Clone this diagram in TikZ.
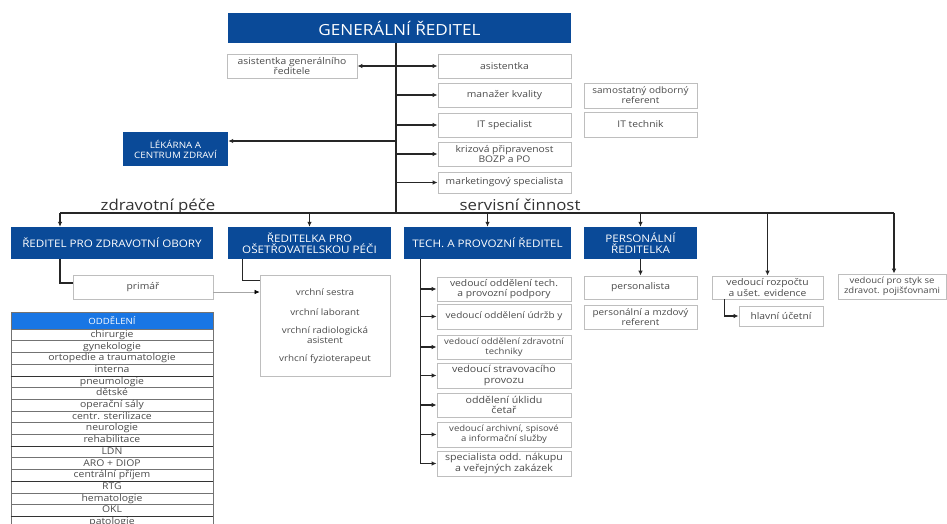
\documentclass[tikz,border=0pt]{standalone}
\usepackage{fontspec}
\setmainfont[FakeStretch=1.12]{Open Sans}
\usetikzlibrary{arrows.meta}
\definecolor{dblue}{RGB}{10,74,152}
\definecolor{hblue}{RGB}{25,118,228}
\definecolor{bgray}{RGB}{190,190,190}
\definecolor{tgray}{RGB}{75,75,75}
\newcommand\rbox[7]{\node[#1, minimum width={#5pt-#3pt}, minimum height={#6pt-#4pt}] (#2) at ({(#3+#5)/2},{(#4+#6)/2}) {#7};}
\tikzset{
  bluebox/.style={fill=dblue, draw=none, text=white, align=center, inner sep=1pt, font=\fontsize{10.4}{11.5}\selectfont},
  wbox/.style={fill=white, draw=bgray, line width=0.8pt, text=tgray, align=center, inner sep=1pt, font=\fontsize{9.2}{10.2}\selectfont},
  vtext/.style={text=tgray, align=center, inner sep=0pt, font=\fontsize{8.8}{9.6}\selectfont},
  small/.style={font=\fontsize{8.5}{9.6}\selectfont},
  mid/.style={font=\fontsize{8.9}{10}\selectfont},
  big/.style={font=\fontsize{9.5}{10.2}\selectfont},
  conn/.style={draw=black!85, line width=1.2pt},
  arr/.style={conn, -{Latex[length=5pt,width=4.5pt]}},
  thinarr/.style={draw=black!35, line width=0.6pt, -{Latex[length=5pt,width=4.5pt,color=black]}},
  lbl/.style={text=black!80, font=\fontsize{15}{17}\selectfont, inner sep=0pt},
  hdr/.style={fill=hblue, draw=black!55, line width=0.6pt, text=white, inner sep=0pt, font=\fontsize{8.6}{9}\selectfont},
  cell/.style={fill=white, draw=black!55, line width=0.6pt, text=tgray, inner sep=0pt, text height=7pt, text depth=2pt, font=\fontsize{9.3}{9}\selectfont},
  sep/.style={draw=black!80, line width=1pt},
}
\begin{document}
\begin{tikzpicture}[x=1pt,y=-1pt]
\useasboundingbox (0,0) rectangle (947,524);
\clip (0,0) rectangle (947,524);
\fill[white] (0,0) rectangle (947,524);
% top
\rbox{bluebox, font=\fontsize{15.3}{17}\selectfont}{gen}{228}{13}{571}{43}{GENERÁLNÍ ŘEDITEL}
\rbox{wbox}{asg}{227}{54}{357}{78}{asistentka generálního\\ředitele}
\rbox{wbox}{asi}{438}{54}{571}{78}{asistentka}
\rbox{wbox}{mk}{438}{83}{571}{107}{manažer kvality}
\rbox{wbox}{its}{438}{113}{571}{137}{IT specialist}
\rbox{wbox}{kr}{438}{142}{571}{166}{krizová připravenost\\BOZP a PO}
\rbox{wbox}{mar}{438}{172}{571}{193}{marketingový specialista}
\rbox{wbox, mid}{sam}{584}{83}{697}{108}{samostatný odborný\\referent}
\rbox{wbox}{itt}{584}{112}{697}{137}{IT technik}
\rbox{bluebox, font=\fontsize{8.8}{10}\selectfont}{lek}{123}{132}{228}{166}{LÉKÁRNA A\\CENTRUM ZDRAVÍ}
% second level
\rbox{bluebox}{zo}{11}{227}{213}{259}{ŘEDITEL PRO ZDRAVOTNÍ OBORY}
\rbox{bluebox}{os}{228}{227}{391}{259}{ŘEDITELKA PRO\\OŠETŘOVATELSKOU PÉČI}
\rbox{bluebox}{tech}{404}{227}{571}{259}{TECH. A PROVOZNÍ ŘEDITEL}
\rbox{bluebox}{pers}{584}{227}{697}{259}{PERSONÁLNÍ\\ŘEDITELKA}
% children
\rbox{wbox}{pri}{73}{275}{213}{299}{primář}
\rbox{wbox}{vr}{260}{275}{390}{376}{}
\node[vtext] (vr1) at (325,292) {vrchní sestra};
\node[vtext] (vr2) at (325,312) {vrchní laborant};
\node[vtext] (vr3) at (325,335) {vrchní radiologická\\asistent};
\node[vtext] (vr4) at (325,359) {vrhcní fyzioterapeut};
\rbox{wbox}{t1}{437}{277}{571}{301}{vedoucí oddělení tech.\\a provozní podpory}
\rbox{wbox, mid}{t2}{437}{304}{571}{329}{vedoucí oddělení údržb y}
\rbox{wbox, small}{t3}{437}{335}{571}{359}{vedoucí oddělení zdravotní\\techniky}
\rbox{wbox, big}{t4}{437}{363}{571}{388}{vedoucí stravovacího\\provozu}
\rbox{wbox, big}{t5}{437}{393}{571}{417}{oddělení úklidu\\četař}
\rbox{wbox, small}{t6}{437}{422}{571}{447}{vedoucí archivní, spisové\\a informační služby}
\rbox{wbox, big}{t7}{437}{451}{571}{476}{specialista odd. nákupu\\a veřejných zakázek}
\rbox{wbox}{pl}{584}{276}{697}{299}{personalista}
\rbox{wbox, mid}{pm}{584}{305}{697}{329}{personální a mzdový\\referent}
\rbox{wbox}{roz}{712}{276}{823}{299}{vedoucí rozpočtu\\a ušet. evidence}
\rbox{wbox}{hl}{739}{306}{823}{326}{hlavní účetní}
\rbox{wbox, small}{sty}{838}{274}{946}{299}{vedoucí pro styk se\\zdravot. pojišťovnami}
% labels
\node[lbl, anchor=base] (zp) at (158,210) {zdravotní péče};
\node[lbl, anchor=base] (sc) at (520,210) {servisní činnost};
% connectors top
\coordinate (t) at (396,43);
\coordinate (bus) at (396,213);
\draw[conn] (t) -- (bus);
\draw[arr] (t |- asg.east) -- (asg.east);
\foreach \n in {asi,mk,its,kr,mar} \draw[arr] (t |- \n.west) -- (\n.west);
\coordinate (lka) at ([yshift=8pt]lek.east);
\draw[arr] (t |- lka) -- (lka);
% bus
\coordinate (b1) at (60,213);
\coordinate (b6) at ([xshift=2pt]sty.north);
\draw[conn] (b1) -- (bus -| b6);
\draw[arr] (b1) -- (b1 |- zo.north);
\foreach \n in {os,tech,pers} \draw[arr] (bus -| \n.north) -- (\n.north);
\draw[arr] (bus -| roz.north) -- (roz.north);
\draw[arr] (bus -| b6) -- (b6);
% second level connectors
\coordinate (pw) at ([yshift=4pt]pri.west);
\draw[conn] (b1 |- zo.south) |- (pw);
\coordinate (c2) at ([xshift=15pt]os.south west);
\coordinate (vw) at ([yshift=-6pt]vr.north west);
\draw[conn] (c2) |- (vw);
\coordinate (pa) at ([yshift=-5pt]pri.east);
\draw[thinarr] (pa) -- (pa -| vr.west);
\coordinate (tv) at ([xshift=17pt]tech.south west);
\draw[conn] (tv) -- (tv |- t7.west);
\foreach \n in {t1,t2,t3,t4,t5,t6,t7} \draw[arr] (tv |- \n.west) -- (\n.west);
\draw[arr] (pers.south) -- (pl.north);
\coordinate (rv) at ([xshift=13pt]roz.south west);
\draw[arr] (rv) |- (hl.west);
% table
\rbox{hdr}{hd}{11}{312}{213}{329}{ODDĚLENÍ}
\foreach [count=\i] \tx in {chirurgie,gynekologie,ortopedie a traumatologie,interna,pneumologie,dětské,operační sály,centr. sterilizace,neurologie,rehabilitace,LDN,ARO + DIOP,centrální příjem,RTG,hematologie,OKL,patologie}{
  \pgfmathsetmacro\yc{329+(\i-0.5)*11.7}
  \node[cell, minimum width=202pt, minimum height=11.7pt] (row\i) at (112,\yc) {\tx};
}
\foreach \r in {4,10,13,16} \draw[sep] (row\r.south west) -- (row\r.south east);
\end{tikzpicture}
\end{document}
